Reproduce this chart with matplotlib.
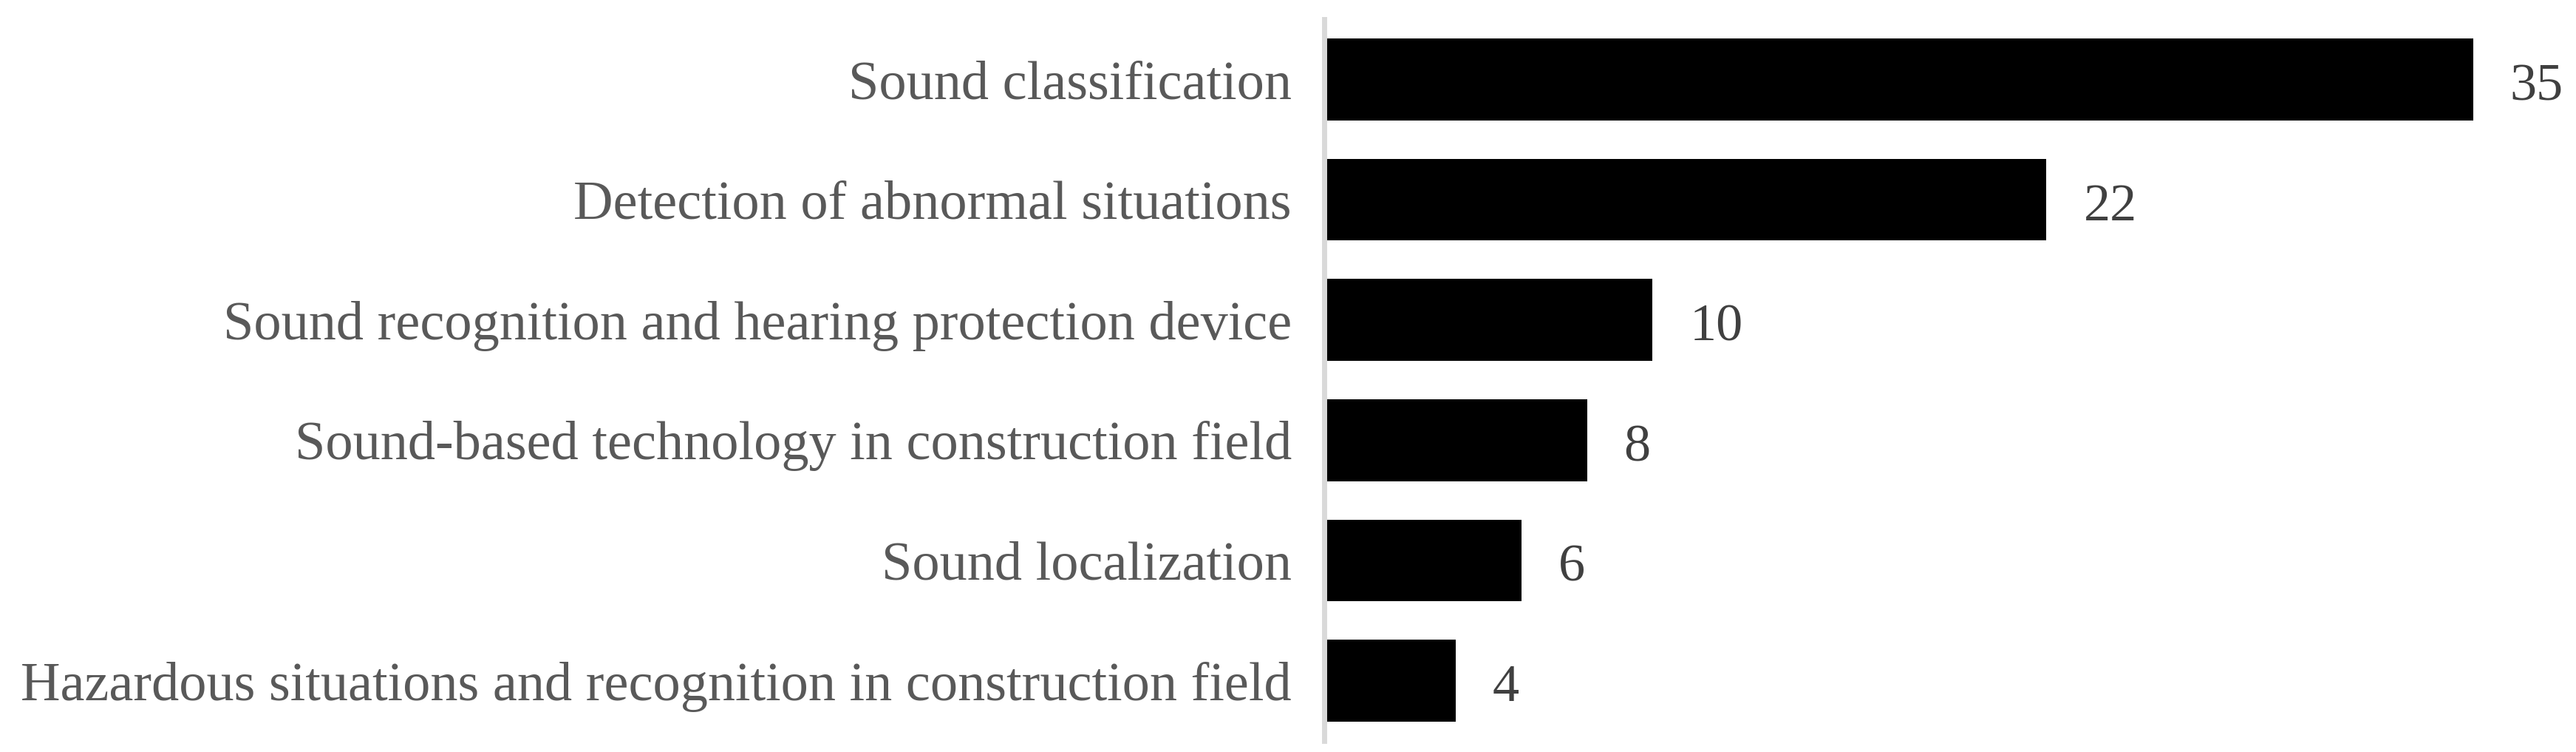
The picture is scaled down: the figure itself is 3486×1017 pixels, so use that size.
import matplotlib.pyplot as plt

categories = [
    'Sound classification',
    'Detection of abnormal situations',
    'Sound recognition and hearing protection device',
    'Sound-based technology in construction field',
    'Sound localization',
    'Hazardous situations and recognition in construction field',
]
counts = [35, 22, 10, 8, 6, 4]

plt.rcParams['font.family'] = ['Liberation Serif', 'DejaVu Serif']

fig = plt.figure(figsize=(34.87, 10.17), dpi=100)
ax = fig.add_axes([0.514, 0.01475, 0.4458, 0.9597])

y = list(range(len(categories)))
ax.barh(y, counts, height=0.68, color='black')
ax.set_ylim(len(categories) - 0.5, -0.5)
ax.set_xlim(0, 35)

for yi, v in zip(y, counts):
    ax.annotate(str(v), xy=(v, yi), xytext=(36, -2), textcoords='offset points',
                va='center_baseline', ha='left', fontsize=52, color='#404040',
                annotation_clip=False)

ax.set_yticks(y)
ax.set_yticklabels(categories, fontsize=53.5, color='#595959')
ax.tick_params(axis='y', length=0, pad=32)
ax.set_xticks([])
for s in ['top', 'right', 'bottom']:
    ax.spines[s].set_visible(False)
ax.spines['left'].set_color('#d9d9d9')
ax.spines['left'].set_linewidth(5)

fig.savefig('out.png', dpi=100)
